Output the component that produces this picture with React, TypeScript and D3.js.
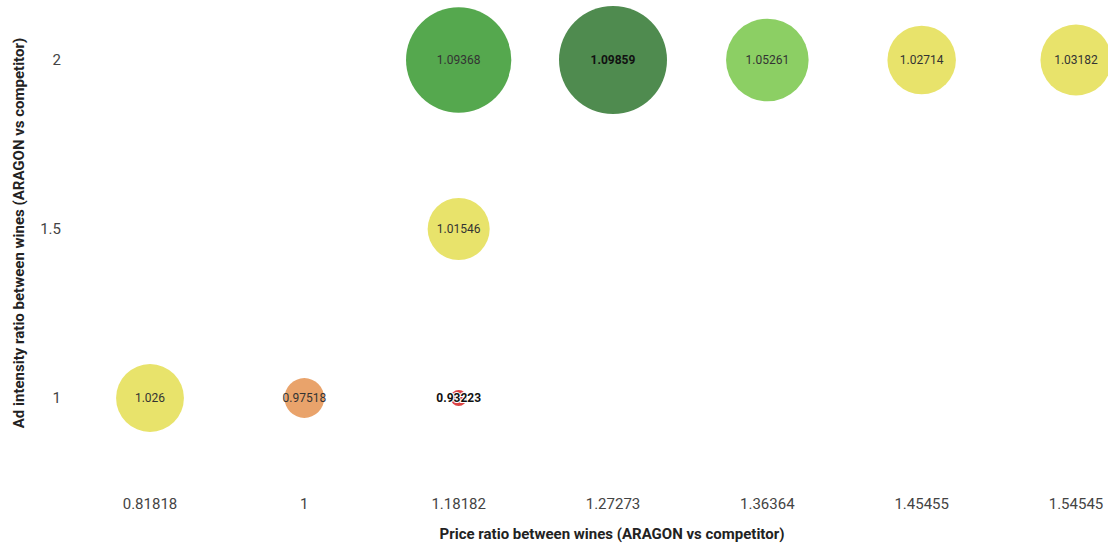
import React from "react"
import * as d3 from "d3"

// x axis categories (price ratio)
const priceTicks = ["0.81818", "1", "1.18182", "1.27273", "1.36364", "1.45455", "1.54545"]
// y axis ticks (ad intensity ratio)
const adTicks = [1, 1.5, 2]

// bubbles
const pointPrice = ["1.18182", "1.27273", "1.36364", "1.45455", "1.54545", "1.18182", "0.81818", "1", "1.18182"]
const pointAd = [2, 2, 2, 2, 2, 1.5, 1, 1, 1]
const pointValue = [1.09368, 1.09859, 1.05261, 1.02714, 1.03182, 1.01546, 1.026, 0.97518, 0.93223]

const colorSteps = [0.95, 1.0, 1.04, 1.07, 1.095]
const colorList = ["#dc4343", "#e9a36b", "#e8e36b", "#8ccf64", "#55a84e", "#4f8b4f"]

const W = 1108
const H = 544

const App = () => {
  const x = d3.scalePoint<string>().domain(priceTicks).range([150, 1076])
  const y = d3.scaleLinear().domain([1, 2]).range([398, 60])
  const r = d3.scaleLinear()
    .domain(d3.extent(pointValue) as [number, number])
    .range([8, 54])
  const color = d3.scaleThreshold<number, string>().domain(colorSteps).range(colorList)

  const font = "Roboto, 'Noto Sans', Arial, sans-serif"

  // draw bigger bubbles first so small ones stay on top
  const order = d3.range(pointValue.length).sort((a, b) => pointValue[b] - pointValue[a])

  return (
    <svg width={W} height={H} style={{ position: "absolute", left: 0, top: 0, background: "#fff" }} fontFamily={font}>
      {order.map(i => {
        const v = pointValue[i]
        const cx = x(pointPrice[i])!
        const cy = y(pointAd[i])
        const bold = v === d3.max(pointValue) || v === d3.min(pointValue)
        return (
          <g key={i}>
            <circle cx={cx} cy={cy} r={r(v)} fill={color(v)} />
            <text
              x={cx}
              y={cy}
              dy="0.35em"
              textAnchor="middle"
              fontSize={12}
              fontWeight={bold ? "bold" : "normal"}
              fill={bold ? "#111" : "#333"}
              stroke={bold && v < 1 ? "#fff" : "none"}
              strokeWidth={bold && v < 1 ? 2 : 0}
              paintOrder="stroke"
            >
              {v}
            </text>
          </g>
        )
      })}

      {/* x ticks */}
      {priceTicks.map(t => (
        <text key={t} x={x(t)} y={504} dy="0.35em" textAnchor="middle" fontSize={15} fill="#444">
          {t}
        </text>
      ))}
      {/* y ticks */}
      {adTicks.map(t => (
        <text key={t} x={61} y={y(t)} dy="0.35em" textAnchor="end" fontSize={15} fill="#444">
          {t}
        </text>
      ))}

      <text x={612} y={534} dy="0.35em" textAnchor="middle" fontSize={15} fontWeight="bold" fill="#222">
        Price ratio between wines (ARAGON vs competitor)
      </text>
      <text
        transform={`translate(19, 233) rotate(-90)`}
        dy="0.35em"
        textAnchor="middle"
        fontSize={15}
        fontWeight="bold"
        fill="#222"
      >
        Ad intensity ratio between wines (ARAGON vs competitor)
      </text>
    </svg>
  )
}

export default App
